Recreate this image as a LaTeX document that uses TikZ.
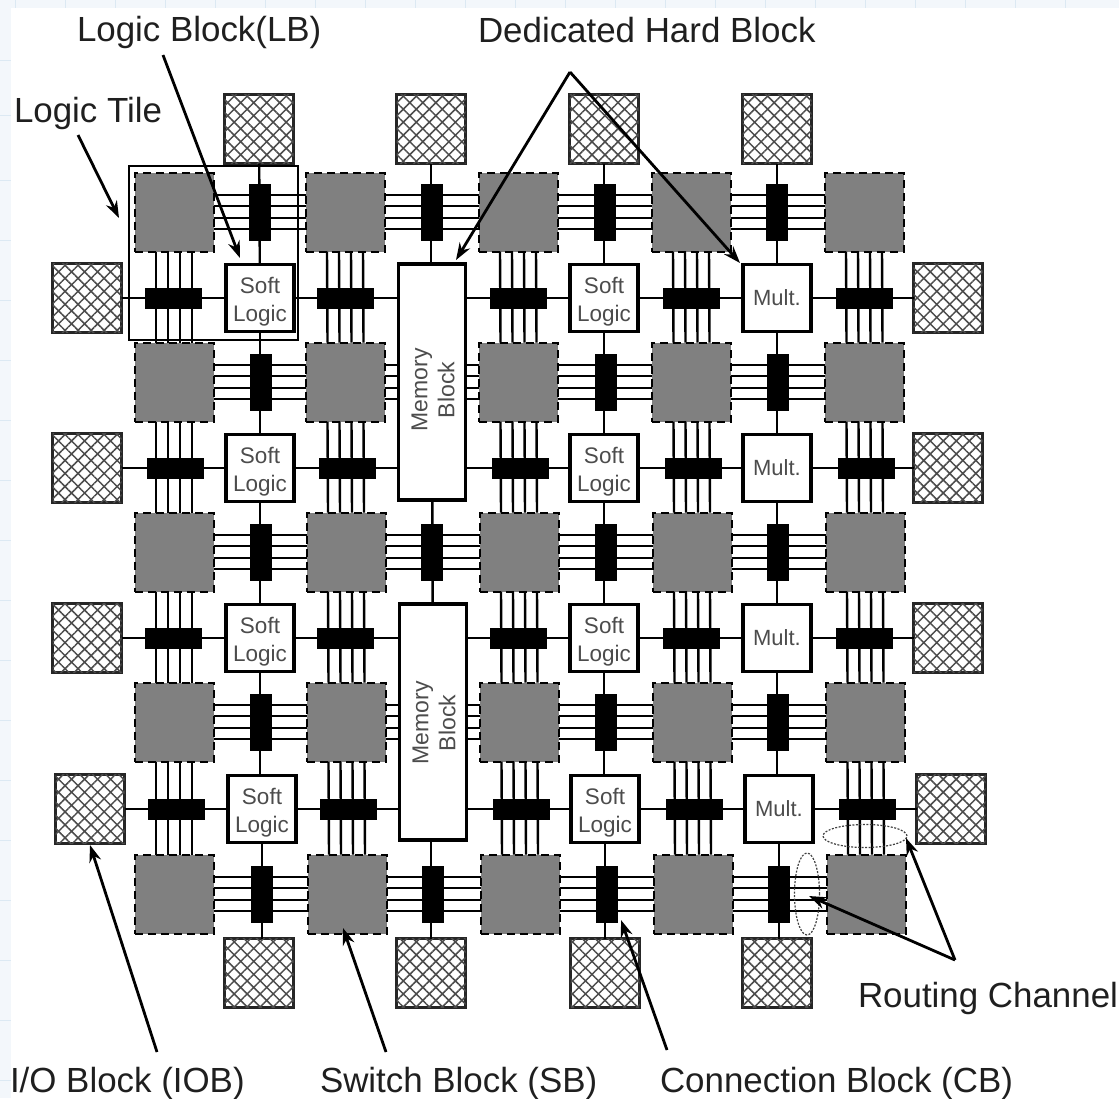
\documentclass[tikz,border=0pt]{standalone}
\usepackage{fontspec}
\setmainfont{Liberation Sans}
\usetikzlibrary{arrows.meta,patterns.meta,shapes.geometric}
\definecolor{sbgray}{gray}{0.5}
\definecolor{gridblue}{HTML}{DCE9F3}
\definecolor{inkc}{gray}{0.12}
\tikzset{
  x=1pt,y=-1pt,
  boxbase/.style={inner sep=0pt,outer sep=0pt,transform shape=false},
  sbbox/.style={boxbase,rectangle,draw=black,dashed,dash pattern=on 8pt off 5pt,line width=2pt,fill=sbgray,minimum width=79pt,minimum height=79pt},
  iobbox/.style={boxbase,rectangle,draw=black!85,line width=2.8pt,fill=white,minimum width=69pt,minimum height=69pt,postaction={pattern={Hatch[angle=45,distance=9.2pt,line width=1.5pt]},pattern color=black!70}},
  lbbox/.style={boxbase,rectangle,draw=black,line width=3.2pt,fill=white,minimum width=68pt,minimum height=67pt,font=\fontsize{22.5}{28}\selectfont,align=center,text=black!70},
  membox/.style={boxbase,rectangle,draw=black,line width=3.2pt,fill=white,minimum width=67pt,minimum height=236pt},
  cbh/.style={boxbase,rectangle,fill=black,minimum width=57pt,minimum height=21pt},
  cbv/.style={boxbase,rectangle,fill=black,minimum width=22pt,minimum height=57pt},
  track/.style={draw=black,line width=2.4pt},
  wire/.style={draw=black,line width=2.4pt},
  pointer/.style={draw=black,line width=2.8pt,-{Stealth[length=17pt,width=12pt]}},
  label/.style={inner sep=0pt,outer sep=0pt,anchor=west,font=\fontsize{34.9}{38}\selectfont,text=inkc},
  ring/.style={boxbase,ellipse,draw=black!75,line width=1.2pt,dash pattern=on 2pt off 1.5pt},
}
\begin{document}
\begin{tikzpicture}
\useasboundingbox (0,0) rectangle (1119,1098);
% graph-paper margin
\fill[gridblue!35] (0,0) rectangle (1119,8);
\fill[gridblue!35] (0,0) rectangle (11,1098);
\foreach \g in {15,65,115,165,215,265,315,365,415,465,515,565,615,665,715,765,815,865,915,965,1015,1065}
  \draw[gridblue,line width=.6pt] (\g,0) -- (\g,8);
\foreach \g in {60,115,180,240,300,360,420,480,540,600,660,720,780,840,900,960,1020,1080}
  \draw[gridblue,line width=.6pt] (0,\g) -- (11,\g);
% switch blocks
\foreach \r/\y in {0/212,1/382,2/552,3/722,4/894}
  \foreach \c/\x in {0/174,1/345,2/518,3/691,4/864}{
    \pgfmathsetmacro{\px}{\x+(\c>0?\r*0.5:0)}
    \node[sbbox] (sb\r\c) at (\px,\y) {};
  }
% I/O blocks
\foreach \c/\x/\b in {0/259/259,1/431/431,2/604/605,3/777/777}{
  \node[iobbox] (iobT\c) at (\x,129) {};
  \node[iobbox] (iobB\c) at (\b,973) {};
}
\foreach \r/\y/\xl/\xr in {0/298/87/948,1/468/87/948,2/638/87/948,3/809/90/951}{
  \node[iobbox] (iobL\r) at (\xl,\y) {};
  \node[iobbox] (iobR\r) at (\xr,\y) {};
}
% channel tracks
\foreach \r in {0,...,4}
  \foreach \c/\d in {0/1,1/2,2/3,3/4}
    \foreach \o in {-17,-6,6,17}
      \draw[track] ([yshift=\o pt]sb\r\c.east) -- ([yshift=\o pt]sb\r\d.west);
\foreach \r/\s in {0/1,1/2,2/3,3/4}
  \foreach \c in {0,...,4}
    \foreach \o in {-18,-6,6,18}
      \draw[track] ([xshift=\o pt]sb\r\c.south) -- ([xshift=\o pt]sb\s\c.north);
% logic, memory and multiplier blocks
\foreach \r/\y/\d in {0/298/0,1/468/0,2/638/0,3/809/2}{
  \pgfmathsetmacro{\xa}{260+\d}
  \pgfmathsetmacro{\xb}{604+\d/2}
  \pgfmathsetmacro{\xc}{777+\d}
  \node[lbbox] (lb\r0) at (\xa,\y) {\rule{0pt}{23pt}Soft\\[0pt]Logic};
  \node[lbbox] (lb\r2) at (\xb,\y) {\rule{0pt}{23pt}Soft\\[0pt]Logic};
  \node[lbbox,font=\fontsize{22}{28}\selectfont] (lb\r3) at (\xc,\y) {Mult.};
}
\node[membox] (mem0) at (432,382) {};
\node[membox] (mem2) at (433,722) {};
\node[boxbase,rotate=90,font=\fontsize{23}{27}\selectfont,align=center,text=black!70] (memt0) at (433,390) {Memory\\Block};
\node[boxbase,rotate=90,font=\fontsize{23}{27}\selectfont,align=center,text=black!70] (memt2) at (434,723) {Memory\\Block};
% wires between blocks
\foreach \r in {0,...,3}{
  \draw[wire] (iobL\r) -- (lb\r0);
  \draw[wire] (lb\r2) -- (lb\r3);
  \draw[wire] (lb\r3) -- (iobR\r);
}
\foreach \r/\m in {0/mem0,1/mem0,2/mem2,3/mem2}{
  \draw[wire] (lb\r0) -- (lb\r0 -| \m.west);
  \draw[wire] (lb\r2 -| \m.east) -- (lb\r2);
}
\foreach \c in {0,2,3}{
  \draw[wire] (iobT\c) -- (lb0\c);
  \draw[wire] (lb0\c) -- (lb1\c);
  \draw[wire] (lb1\c) -- (lb2\c);
  \draw[wire] (lb2\c.south) -- (lb2\c.south |- lb3\c.north);
  \draw[wire] (lb3\c.south) -- (lb3\c.south |- iobB\c.north);
}
\draw[wire] (iobT1) -- (iobT1 |- mem0.north);
\draw[wire] (mem0) -- (mem2);
\draw[wire] (iobB1 |- mem2.south) -- (iobB1);
% connection blocks
\foreach \r/\y/\d in {0/298/0,1/468/2,2/638/0,3/809/3}
  \foreach \c/\x in {0/173.5,1/345.5,2/518.5,3/691,4/864}{
    \pgfmathsetmacro{\px}{\x+\d}
    \node[cbh] (cbh\r\c) at (\px,\y) {};
  }
\foreach \r/\y/\d in {0/212/0,1/382/1,2/552/1,3/722/1,4/894/2}
  \foreach \c/\x in {0/260,2/605,3/777}{
    \pgfmathsetmacro{\px}{\x+\d}
    \node[cbv] (cbv\r\c) at (\px,\y) {};
  }
\foreach \r/\y/\x in {0/212/432,2/552/432,4/894/433}
  \node[cbv] (cbv\r1) at (\x,\y) {};
% logic tile outline
\node[boxbase,rectangle,draw=black,line width=1.6pt,minimum width=169pt,minimum height=174pt] (tile) at (213.5,253) {};
% routing-channel rings
\node[ring,minimum width=84pt,minimum height=23pt] (ringh) at (865,836) {};
\node[ring,minimum width=25pt,minimum height=82pt] (ringv) at (807,894) {};
% labels
\node[label] (tLB) at (77,32) {Logic Block(LB)};
\node[label] (tDH) at (478,30) {Dedicated Hard Block};
\node[label] (tLT) at (14,113) {Logic Tile};
\node[label] (tIO) at (10,1083) {I/O Block (IOB)};
\node[label] (tSB) at (320,1083) {Switch Block (SB)};
\node[label] (tCB) at (660,1083) {Connection Block (CB)};
\node[label] (tRC) at (858,998) {Routing Channel};
% pointers
\coordinate (aLB) at (163,55);
\coordinate (bLB) at (240,258);
\coordinate (aLT) at (78,135);
\coordinate (bLT) at (119,218);
\coordinate (aDH) at (570,72);
\coordinate (bDM) at (456,260);
\coordinate (bDX) at (740,263);
\coordinate (aIO) at (157,1052);
\coordinate (bIO) at (90,845);
\coordinate (aSB) at (386,1052);
\coordinate (bSB) at (343,928);
\coordinate (aCB) at (667,1050);
\coordinate (bCB) at (621,920);
\coordinate (aRC) at (955,960);
\coordinate (bRV) at (809,896);
\coordinate (bRH) at (906,838);
\draw[pointer] (aLB) -- (bLB);
\draw[pointer] (aLT) -- (bLT);
\draw[pointer] (aDH) -- (bDM);
\draw[pointer] (aDH) -- (bDX);
\draw[pointer] (aIO) -- (bIO);
\draw[pointer] (aSB) -- (bSB);
\draw[pointer] (aCB) -- (bCB);
\draw[pointer] (aRC) -- (bRV);
\draw[pointer] (aRC) -- (bRH);
\end{tikzpicture}
\end{document}
